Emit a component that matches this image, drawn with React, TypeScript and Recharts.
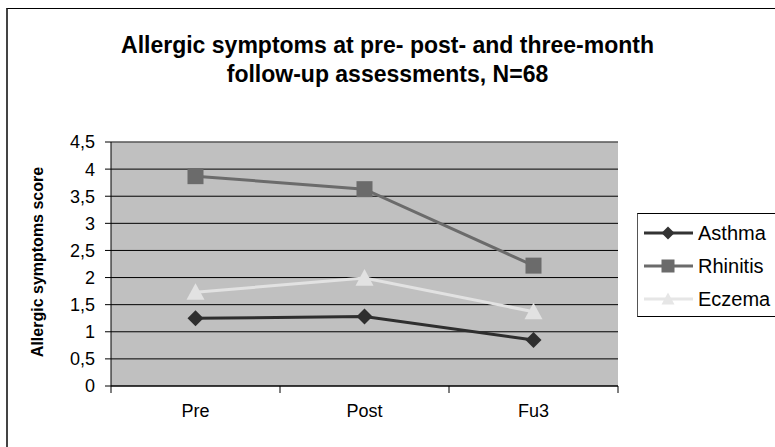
import React from "react";
import {
  LineChart,
  Line,
  XAxis,
  YAxis,
  CartesianGrid,
  ReferenceLine,
} from "recharts";

const categories = ["Pre", "Post", "Fu3"];
const asthma = [1.25, 1.28, 0.85];
const rhinitis = [3.87, 3.63, 2.22];
const eczema = [1.73, 1.99, 1.37];
const yTicks = [0, 0.5, 1, 1.5, 2, 2.5, 3, 3.5, 4, 4.5];

const SERIES = [
  { key: "asthma", label: "Asthma", color: "#2e2e2e", legendColor: "#333333", shape: "diamond" },
  { key: "rhinitis", label: "Rhinitis", color: "#6b6b6b", legendColor: "#6b6b6b", shape: "square" },
  { key: "eczema", label: "Eczema", color: "#e2e2e2", legendColor: "#e6e6e6", shape: "triangle" },
];

const FONT = '"Liberation Sans", Arial, sans-serif';

const data = categories.map((name, i) => ({
  name,
  asthma: asthma[i],
  rhinitis: rhinitis[i],
  eczema: eczema[i],
}));

// marker drawn around a library-computed center
function Marker({ shape, cx, cy, size, color }: { shape: string; cx: number; cy: number; size: number; color: string }) {
  const h = size / 2;
  if (shape === "diamond") {
    return <polygon points={`${cx},${cy - h} ${cx + h},${cy} ${cx},${cy + h} ${cx - h},${cy}`} fill={color} />;
  }
  if (shape === "square") {
    return <rect x={cx - h} y={cy - h} width={size} height={size} fill={color} />;
  }
  return <polygon points={`${cx},${cy - h} ${cx + h},${cy + h * 0.85} ${cx - h},${cy + h * 0.85}`} fill={color} />;
}

function makeDot(shape: string, color: string) {
  return (props: any) => {
    const { cx, cy, index } = props;
    if (cx == null || cy == null) return <g key={index} />;
    return <Marker key={index} shape={shape} cx={cx} cy={cy} size={shape === "triangle" ? 18 : 16} color={color} />;
  };
}

// Excel-style category tick: label at band center, tick marks at band edges
function CategoryTick(props: any) {
  const { x, y, payload, index } = props;
  const half = payload?.offset ?? 0;
  return (
    <g>
      <line x1={x - half} y1={y - 8} x2={x - half} y2={y - 1} stroke="#000" />
      {index === categories.length - 1 && (
        <line x1={x + half} y1={y - 8} x2={x + half} y2={y - 1} stroke="#000" />
      )}
      <text x={x} y={y + 23} textAnchor="middle" fontSize={18} fill="#000" fontFamily={FONT}>
        {payload.value}
      </text>
    </g>
  );
}

function LegendBox() {
  return (
    <div
      style={{
        position: "absolute",
        left: 637,
        top: 213,
        width: 150,
        height: 102,
        border: "1px solid #000",
        borderLeft: "1px solid #555",
        background: "#fff",
        fontFamily: FONT,
        fontSize: 20,
      }}
    >
      {SERIES.map((s, i) => (
        <div
          key={s.key}
          style={{ position: "absolute", left: 5, top: 7 + i * 33, height: 24, display: "flex", alignItems: "center" }}
        >
          <svg width={52} height={24}>
            <line x1={1} y1={12} x2={50} y2={12} stroke={s.legendColor} strokeWidth={3} />
            <Marker shape={s.shape} cx={25} cy={12} size={13} color={s.legendColor} />
          </svg>
          <span style={{ marginLeft: 3 }}>{s.label}</span>
        </div>
      ))}
    </div>
  );
}

export default function App() {
  return (
    <div
      style={{
        position: "absolute",
        left: 0,
        top: 0,
        width: 775,
        height: 447,
        background: "#fff",
        overflow: "hidden",
        fontFamily: FONT,
      }}
    >
      {/* chart area frame, cut off on the right and bottom like the source */}
      <div
        style={{
          position: "absolute",
          left: 6,
          top: 8,
          width: 800,
          height: 460,
          borderTop: "1px solid #000",
          borderLeft: "2px solid #444",
        }}
      />
      <div
        style={{
          position: "absolute",
          left: 0,
          top: 31,
          width: 775,
          textAlign: "center",
          fontWeight: "bold",
          fontSize: 23,
          lineHeight: "29px",
          color: "#000",
        }}
      >
        Allergic symptoms at pre- post- and three-month
        <br />
        follow-up assessments, N=68
      </div>
      <div
        style={{
          position: "absolute",
          left: 38,
          top: 262,
          transform: "translate(-50%, -50%) rotate(-90deg)",
          whiteSpace: "nowrap",
          fontWeight: "bold",
          fontSize: 16,
          color: "#000",
        }}
      >
        Allergic symptoms score
      </div>
      <div style={{ position: "absolute", left: 0, top: 0 }}>
        <LineChart width={775} height={447} data={data} margin={{ top: 142, right: 157, left: 0, bottom: 0 }}>
          <CartesianGrid fill="#c0c0c0" vertical={false} stroke="#000" strokeOpacity={1} />
          <XAxis
            dataKey="name"
            scale="band"
            height={61}
            axisLine={{ stroke: "#000" }}
            tickLine={false}
            tick={<CategoryTick />}
            interval={0}
          />
          <YAxis
            width={111}
            domain={[0, 4.5]}
            ticks={yTicks}
            interval={0}
            axisLine={{ stroke: "#000" }}
            tickLine={{ stroke: "#000" }}
            tickSize={6}
            tickMargin={10}
            tick={{ fill: "#000", fontSize: 18, fontFamily: FONT }}
            tickFormatter={(v: number) => String(v).replace(".", ",")}
          />
          <YAxis yAxisId="r" orientation="right" width={0} domain={[0, 4.5]} tick={false} tickLine={false} axisLine={{ stroke: "#808080" }} />
          <ReferenceLine y={4.5} stroke="#808080" />
          {SERIES.map((s) => (
            <Line
              key={s.key}
              type="linear"
              dataKey={s.key}
              stroke={s.color}
              strokeWidth={3}
              dot={makeDot(s.shape, s.color)}
              activeDot={false}
              isAnimationActive={false}
            />
          ))}
        </LineChart>
      </div>
      <LegendBox />
    </div>
  );
}
